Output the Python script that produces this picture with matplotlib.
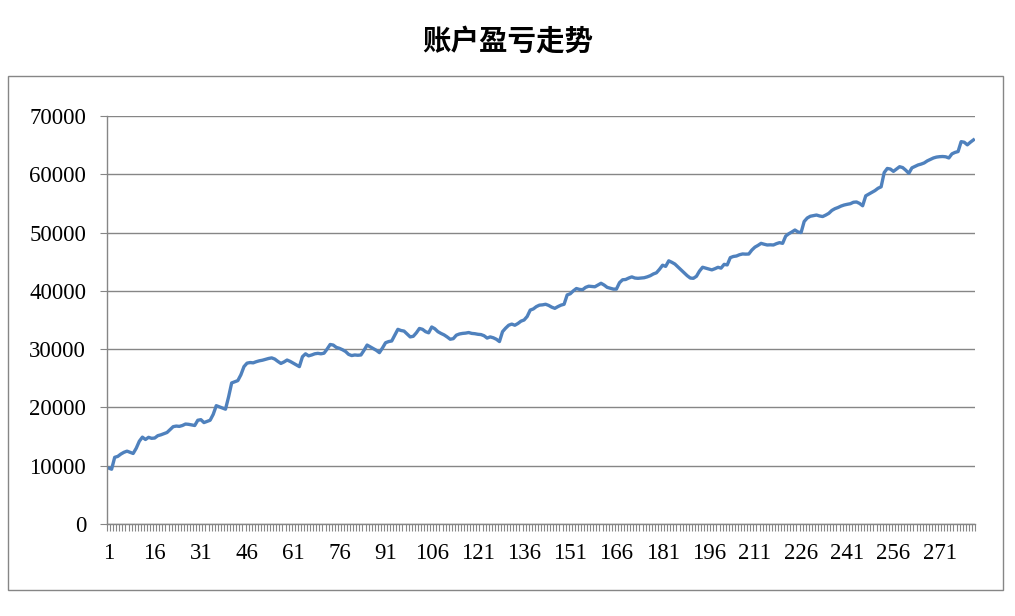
#!/usr/bin/env python3
"""Line chart: 账户盈亏走势 (account P&L trend), Excel-style."""
import matplotlib

matplotlib.use("Agg")
import matplotlib.pyplot as plt
from matplotlib.patches import Rectangle

TITLE = "账户盈亏走势"
Y_TICKS = [0, 10000, 20000, 30000, 40000, 50000, 60000, 70000]
LABEL_STEP = 15

balance = [
    9600, 9400, 11440, 11600, 12000, 12300, 12500, 12300, 12100, 13000,
    14200, 14900, 14500, 14870, 14700, 14750, 15150, 15300, 15500, 15700,
    16200, 16700, 16800, 16750, 16900, 17150, 17100, 17000, 16900, 17800,
    17900, 17400, 17600, 17800, 18800, 20300, 20100, 19900, 19700, 21800,
    24200, 24400, 24600, 25600, 27000, 27600, 27700, 27650, 27850, 28000,
    28100, 28250, 28400, 28500, 28300, 27900, 27550, 27800, 28130, 27900,
    27600, 27300, 27000, 28700, 29200, 28850, 29000, 29200, 29280, 29200,
    29300, 30000, 30800, 30700, 30300, 30140, 29900, 29600, 29100, 28900,
    29000, 28950, 29000, 29800, 30700, 30400, 30100, 29800, 29400, 30200,
    31100, 31300, 31400, 32400, 33400, 33200, 33100, 32600, 32100, 32200,
    32800, 33550, 33400, 33000, 32800, 33800, 33500, 33000, 32700, 32450,
    32100, 31700, 31800, 32400, 32600, 32700, 32750, 32850, 32700, 32650,
    32550, 32500, 32300, 31900, 32100, 31950, 31700, 31300, 33000, 33600,
    34100, 34300, 34100, 34400, 34800, 35000, 35600, 36700, 36900, 37300,
    37550, 37600, 37700, 37500, 37200, 37000, 37300, 37550, 37700, 39300,
    39500, 40000, 40400, 40250, 40200, 40600, 40800, 40750, 40700, 41000,
    41300, 41000, 40600, 40450, 40300, 40300, 41400, 41900, 41950, 42200,
    42400, 42200, 42150, 42200, 42250, 42400, 42600, 42900, 43100, 43700,
    44400, 44200, 45150, 44900, 44600, 44100, 43600, 43100, 42600, 42200,
    42150, 42500, 43400, 44050, 43900, 43750, 43600, 43800, 44040, 43900,
    44550, 44450, 45700, 45900, 45980, 46200, 46330, 46300, 46320, 47000,
    47500, 47800, 48150, 48000, 47870, 47900, 47870, 48100, 48270, 48150,
    49400, 49800, 50100, 50440, 50100, 50000, 51900, 52500, 52800, 52900,
    53010, 52850, 52750, 53000, 53300, 53800, 54100, 54300, 54550, 54730,
    54850, 54950, 55200, 55250, 55000, 54600, 56300, 56600, 56900, 57200,
    57600, 57850, 60300, 61000, 60900, 60500, 60900, 61300, 61150, 60700,
    60170, 61100, 61350, 61600, 61750, 61950, 62300, 62550, 62800, 62950,
    63020, 63050, 63000, 62800, 63500, 63750, 63900, 65600, 65500, 65050,
    65500, 65900,
]
periods = list(range(1, len(balance) + 1))

fig = plt.figure(figsize=(10.15, 6.16), dpi=100)
fig.patch.set_facecolor("white")

# chart-area frame (title sits above it)
fig.add_artist(Rectangle((8 / 1015, 1 - 590 / 616), 995 / 1015, 514 / 616,
                         transform=fig.transFigure, fill=False,
                         edgecolor="#868686", linewidth=1.0))
fig.text(0.5, 1 - 42 / 616, TITLE, ha="center", va="center", fontsize=20.5,
         fontweight="black", family=["Noto Sans CJK SC", "DejaVu Sans"])

ax = fig.add_axes([107 / 1015, 1 - 524 / 616, 868 / 1015, 408 / 616])
ax.plot(periods, balance, color="#4F81BD", linewidth=2.4, solid_joinstyle="round")

ax.set_xlim(0.5, len(balance) + 0.5)
ax.set_ylim(0, 70000)
ax.set_yticks(Y_TICKS)
ax.set_yticklabels([str(v) for v in Y_TICKS])
ax.set_xticks(periods[::LABEL_STEP])
ax.set_xticklabels([str(p) for p in periods[::LABEL_STEP]])
ax.set_xticks([p + 0.5 for p in range(0, len(balance) + 1)], minor=True)

ax.grid(axis="y", color="#868686", linewidth=1.0)
ax.set_axisbelow(True)
for side in ("top", "right"):
    ax.spines[side].set_visible(False)
for side in ("left", "bottom"):
    ax.spines[side].set_color("#868686")
    ax.spines[side].set_linewidth(1.0)

ax.tick_params(axis="x", which="major", length=0, pad=14)
ax.tick_params(axis="x", which="minor", length=5, color="#868686", width=0.8)
ax.tick_params(axis="y", length=5, color="#868686", pad=10)
for lbl in ax.get_xticklabels() + ax.get_yticklabels():
    lbl.set_fontfamily("Liberation Serif")
    lbl.set_fontsize(16.5)

plt.savefig("out.png", dpi=100, facecolor="white")
plt.close()
